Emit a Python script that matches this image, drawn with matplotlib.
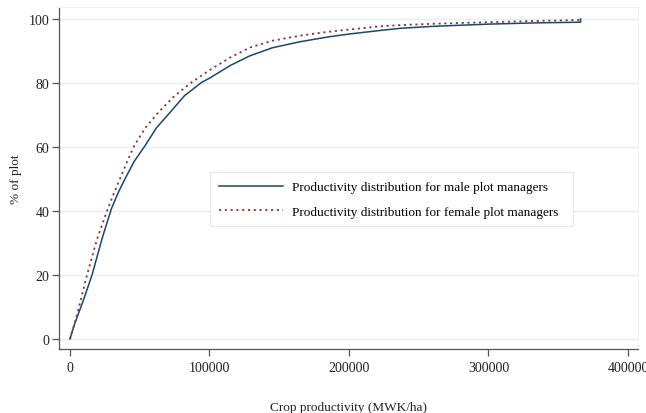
import matplotlib
matplotlib.use("Agg")
import matplotlib.pyplot as plt
from matplotlib.patches import Rectangle

# Data (crop productivity in MWK/ha, cumulative % of plots)
male_x = [0, 1000, 3300, 9500, 15800, 22900, 29600, 34500, 39400, 46000, 53800, 62000, 71700,
          82000, 94400, 100000, 115000, 129000, 145000, 165000, 185000, 200000, 222000,
          237000, 260000, 300000, 335000, 366000, 366000]
male_y = [0, 1.5, 4.7, 12, 20, 31.25, 40.6, 45.7, 50, 55.5, 60.4, 66, 70.8,
          76, 80.2, 81.5, 85.5, 88.5, 91, 92.9, 94.4, 95.3, 96.4,
          97.1, 97.7, 98.4, 98.8, 99.0, 100]
female_x = [0, 2000, 5000, 12200, 19400, 27000, 31500, 35800, 41000, 46100, 54000, 63300,
            75000, 87200, 100000, 115000, 129000, 145000, 165000, 185000, 200000, 222000,
            237000, 260000, 300000, 335000, 366000, 366000]
female_y = [0, 3, 7.5, 20, 31.25, 40.6, 45.6, 50, 55.5, 60.4, 66, 70.8,
            76, 80.2, 84, 88, 91.1, 93.2, 94.8, 96, 96.7, 97.7,
            98.1, 98.5, 99.0, 99.4, 99.7, 100]

xticks = [0, 100000, 200000, 300000, 400000]
yticks = [0, 20, 40, 60, 80, 100]
labels = ["Productivity distribution for male plot managers",
          "Productivity distribution for female plot managers"]

plt.rcParams['font.family'] = ['Liberation Serif', 'DejaVu Serif']

W, H = 646, 414
fig = plt.figure(figsize=(W / 100, H / 100), dpi=100)
ax = fig.add_axes([59/W, (H-350)/H, (638-59)/W, (350-8)/H])

for y in yticks:
    ax.axhline(y, color="#e6eef1", lw=1.0, zorder=0)

ax.plot(male_x, male_y, color="#1a476f", lw=1.1, label=labels[0], zorder=3)
ax.plot(female_x, female_y, color="#90353b", lw=1.3, ls=(0, (1.2, 2.0)), label=labels[1], zorder=4)

ax.set_xlim(-7885, 407170)
ax.set_ylim(-3.125, 103.75)
ax.set_xticks(xticks)
ax.set_xticklabels([str(v) for v in xticks])
ax.set_yticks(yticks)
ax.set_yticklabels([str(v) for v in yticks])

for s in ["top", "right"]:
    ax.spines[s].set_color("#eef3f5")
    ax.spines[s].set_linewidth(0.8)
for s in ["left", "bottom"]:
    ax.spines[s].set_color("#555555")
    ax.spines[s].set_linewidth(0.9)

ax.tick_params(axis="both", direction="out", length=5, width=0.9, color="#555555",
               labelsize=10, labelcolor="#222222")
ax.tick_params(axis="x", pad=4)
ax.tick_params(axis="y", pad=2)

ax.set_xlabel("Crop productivity (MWK/ha)", fontsize=9.5, color="#222222", labelpad=19)
ax.set_ylabel("% of plot", fontsize=9.5, color="#222222", labelpad=5)

# legend box (frame drawn separately so its width matches the reference)
box = Rectangle((210/W, (H-227)/H), (573-210)/W, (227-173)/H, transform=fig.transFigure,
                facecolor="white", edgecolor="#e3ebee", linewidth=0.8, zorder=4.5,
                clip_on=False)
ax.add_patch(box)

leg = ax.legend(loc="upper left", bbox_to_anchor=((210-59)/579, (350-173)/342),
                borderaxespad=0,
                fontsize=9.5, frameon=False,
                handlelength=4.8, handletextpad=0.75, borderpad=0.7, labelspacing=0.9)
leg.set_zorder(6)

fig.savefig("out.png", dpi=100)
